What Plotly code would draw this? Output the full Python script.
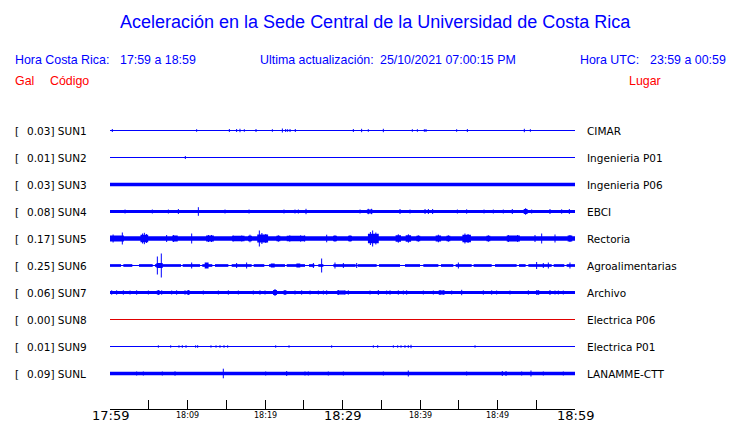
import plotly.graph_objects as go

# ---------------- data ----------------
STATIONS = ["SUN1", "SUN2", "SUN3", "SUN4", "SUN5", "SUN6", "SUN7", "SUN8", "SUN9", "SUNL"]
PLACES = ["CIMAR", "Ingenieria P01", "Ingenieria P06", "EBCI", "Rectoria",
          "Agroalimentarias", "Archivo", "Electrica P06", "Electrica P01", "LANAMME-CTT"]
PEAK_GAL = [0.03, 0.01, 0.03, 0.08, 0.17, 0.25, 0.06, 0.00, 0.01, 0.09]
# thickness of the background noise band (display px)
NOISE_BAND = [1, 1, 3.5, 3, 4.5, 2.7, 3, 1, 1, 3.3]
TRACE_COLORS = ["#0000ff"] * 7 + ["#e00000"] + ["#0000ff"] * 2

# spikes: (minutes after 17:59, half amplitude in display px)
SPIKES_SUN1 = [(0.30, 1.5), (11.18, 1.3), (15.40, 1.5), (16.34, 1.5), (16.77, 1.7), (17.33, 1.3),
               (18.84, 1.5), (20.95, 1.3), (22.24, 2.0), (22.67, 1.5), (22.92, 1.3), (23.23, 1.5),
               (23.91, 1.5), (31.40, 1.5), (32.47, 1.7), (33.33, 1.3), (35.27, 1.7), (39.01, 1.3),
               (39.66, 1.3), (40.56, 1.3), (40.77, 1.5), (44.73, 1.3), (46.11, 1.5), (53.46, 1.7),
               (54.24, 1.3)]
SPIKES_SUN2 = [(9.72, 1.5)]
SPIKES_SUN3 = []
SPIKES_SUN4 = [(1.94, 2.0), (5.46, 2.0), (7.53, 2.0), (8.82, 2.5), (11.40, 4.3), (14.84, 2.0),
               (17.94, 2.0), (22.45, 2.0), (23.87, 2.0), (24.30, 2.0), (25.29, 2.7), (32.26, 2.0),
               (33.33, 2.7), (33.76, 2.7), (37.42, 2.5), (38.71, 2.0), (40.65, 2.5), (41.08, 2.5),
               (41.63, 2.5), (44.82, 2.0), (46.02, 2.2), (48.26, 2.0), (49.46, 2.0), (50.75, 2.0),
               (51.91, 2.5), (53.63, 3.3), (54.41, 2.0), (56.77, 2.5), (58.28, 2.2), (59.27, 2.5)]
SPIKES_SUN5 = [(0.40, 4.0), (1.59, 6.0), (4.20, 5.0), (4.43, 5.7), (4.70, 4.5), (7.31, 3.5),
               (8.20, 3.5), (10.54, 5.0), (12.70, 3.5), (13.10, 3.5), (15.90, 3.0), (17.00, 3.0),
               (18.06, 3.8), (19.27, 8.0), (19.60, 5.5), (20.10, 4.5), (21.72, 3.2), (23.20, 3.2),
               (24.60, 3.2), (25.10, 3.0), (27.96, 3.8), (29.03, 3.2), (30.97, 3.2), (33.60, 6.5),
               (33.89, 8.0), (34.30, 6.0), (37.20, 4.2), (38.50, 4.2), (39.78, 3.2), (42.37, 3.8),
               (43.66, 3.2), (45.80, 5.0), (46.20, 4.5), (48.82, 3.2), (51.40, 3.5), (52.60, 3.5),
               (54.84, 3.5), (55.70, 5.0), (57.42, 4.0), (59.35, 3.5)]
SPIKES_SUN6 = [(6.11, 9.0), (6.62, 12.0), (10.54, 3.0), (16.34, 2.5), (17.63, 3.0), (26.24, 2.5),
               (27.31, 7.0), (29.03, 3.0), (30.11, 2.5), (31.83, 2.5), (44.95, 3.0), (55.05, 3.5),
               (55.91, 2.5), (56.56, 3.0), (59.35, 3.0)]
SPIKES_SUN7 = [(0.22, 2.2), (0.86, 2.2), (1.72, 2.2), (2.58, 2.0), (3.44, 2.2), (4.95, 2.0),
               (6.24, 2.5), (6.67, 2.2), (7.96, 2.0), (8.60, 2.2), (9.68, 2.2), (10.11, 2.5),
               (12.04, 2.0), (13.98, 2.0), (15.27, 2.2), (16.56, 2.0), (18.49, 2.0), (19.35, 2.2),
               (20.00, 2.0), (21.29, 3.5), (22.58, 2.5), (23.87, 2.0), (24.73, 2.2), (25.81, 2.0),
               (26.88, 2.0), (27.53, 2.0), (27.96, 2.2), (29.46, 2.5), (30.32, 2.2), (30.75, 2.2),
               (33.55, 2.0), (34.62, 2.5), (35.70, 2.0), (36.13, 2.2), (37.20, 2.2), (37.85, 2.0),
               (38.28, 2.2), (40.43, 2.0), (41.72, 2.0), (42.58, 2.5), (43.01, 2.2), (44.09, 2.0),
               (45.38, 2.7), (48.17, 2.2), (49.25, 2.2), (49.89, 2.0), (51.61, 2.0), (53.98, 2.2),
               (55.05, 2.2), (55.27, 2.2), (56.77, 2.5), (57.42, 2.0), (57.85, 2.0), (58.49, 2.0)]
SPIKES_SUN8 = []
SPIKES_SUN9 = [(6.24, 1.2), (7.83, 1.2), (8.90, 1.2), (9.33, 1.3), (9.81, 1.3), (11.05, 1.2),
               (11.31, 1.3), (13.03, 1.2), (13.68, 1.2), (14.19, 1.3), (14.71, 1.3), (15.18, 1.2),
               (21.38, 1.2), (23.10, 1.2), (28.60, 1.2), (33.98, 1.2), (34.54, 1.3), (36.56, 1.2),
               (37.12, 1.2), (37.55, 1.2), (38.06, 1.3), (38.49, 1.3), (38.84, 1.7), (47.10, 1.2)]
SPIKES_SUNL = [(3.44, 2.0), (4.30, 2.0), (6.75, 2.0), (8.39, 2.2), (14.62, 4.8), (20.09, 2.0),
               (22.80, 2.5), (25.16, 2.0), (25.59, 2.0), (28.17, 2.0), (30.11, 2.0), (35.27, 2.0),
               (38.49, 3.0), (46.02, 2.0), (50.62, 2.5), (51.10, 2.5), (53.12, 2.0), (54.32, 3.0),
               (55.91, 2.0), (58.49, 2.0)]

# bursts: (centre minute, half height px, duration minutes)
BURSTS_SUN4 = [(53.63, 2.4, 0.5), (33.5, 2.0, 0.7)]
BURSTS_SUN5 = [(0.9, 3.0, 1.8), (4.43, 3.8, 1.0), (8.39, 3.0, 0.7), (12.9, 3.0, 1.0),
               (16.56, 2.7, 1.6), (18.06, 2.8, 0.5), (19.7, 4.0, 1.4), (21.72, 2.7, 0.5),
               (24.0, 2.7, 2.4), (29.03, 2.7, 0.5), (30.97, 2.7, 0.5), (33.98, 4.8, 1.4),
               (37.2, 3.2, 0.7), (38.5, 3.2, 0.7), (39.78, 2.7, 0.5), (42.37, 2.9, 0.7),
               (43.66, 2.7, 0.5), (46.02, 3.8, 1.1), (48.82, 2.7, 0.5), (52.04, 2.9, 1.7),
               (59.35, 2.9, 0.6)]
BURSTS_SUN6 = [(6.4, 2.6, 0.8), (12.47, 3.0, 0.5), (24.3, 2.0, 0.5), (21.0, 2.0, 0.5)]
BURSTS_SUN7 = [(6.24, 2.0, 0.4), (10.11, 2.0, 0.4), (21.29, 2.4, 0.5), (22.58, 2.0, 0.4),
               (29.8, 2.0, 1.0), (42.8, 2.0, 0.8), (55.2, 2.0, 0.4)]
# quiet stretches where SUN6 shrinks to a thin line (start, end minutes)
QUIET_SUN6 = [(1.42, 1.72), (2.88, 3.74), (5.51, 5.81), (9.16, 9.38), (11.61, 11.91),
              (13.20, 13.55), (15.27, 15.70), (18.28, 18.54), (19.91, 20.52), (22.58, 22.80),
              (25.16, 25.68), (26.37, 26.88), (27.53, 28.82), (31.70, 31.96), (34.41, 34.71),
              (37.42, 38.06), (40.00, 40.43), (42.37, 42.71), (44.30, 44.60), (46.67, 46.92),
              (49.25, 49.68), (52.47, 52.77), (53.63, 53.98), (56.99, 57.25), (58.62, 58.92)]

SPIKES = {"SUN1": SPIKES_SUN1, "SUN2": SPIKES_SUN2, "SUN3": SPIKES_SUN3, "SUN4": SPIKES_SUN4,
          "SUN5": SPIKES_SUN5, "SUN6": SPIKES_SUN6, "SUN7": SPIKES_SUN7, "SUN8": SPIKES_SUN8,
          "SUN9": SPIKES_SUN9, "SUNL": SPIKES_SUNL}
BURSTS = {"SUN4": BURSTS_SUN4, "SUN5": BURSTS_SUN5, "SUN6": BURSTS_SUN6, "SUN7": BURSTS_SUN7}
QUIET = {"SUN6": QUIET_SUN6}

TICK_MIN = [0, 10, 20, 30, 40, 50, 60]
TICK_TEXT = ["17:59", "18:09", "18:19", "18:29", "18:39", "18:49", "18:59"]
MAJOR_TICKS = ["17:59", "18:29", "18:59"]
DURATION = 60

TITLE = "Aceleración en la Sede Central de la Universidad de Costa Rica"

# ---------------- layout geometry (page px of the 740x423 view) ----------------
OFF = 8                                # default body margin of the html page
W, H = 740 - OFF, 423 - OFF
PL, PR, PT, PB = 110, 575, 115, 409    # plot box in page px
ROW0, ROW_STEP = 15.5, 27              # first row centre (px below plot top), spacing

def px2x(px):
    return (px - PL) / (PR - PL)

def py2p(py):
    return (PB - py) / (PB - PT)

BLUE = "#0000ff"
RED = "#ff0000"
SANS = "Liberation Sans, Arial, sans-serif"
DEJ = "DejaVu Sans, sans-serif"

fig = go.Figure()

for i, st in enumerate(STATIONS):
    c = ROW0 + ROW_STEP * i
    col = TRACE_COLORS[i]
    if st in QUIET:
        fig.add_trace(go.Scatter(x=[0, DURATION], y=[c, c], mode="lines",
                                 line=dict(color=col, width=1), hoverinfo="skip"))
        xs, ys = [], []
        start = 0
        for g0, g1 in QUIET[st]:
            xs += [start, g0, None]
            ys += [c, c, None]
            start = g1
        xs += [start, DURATION]
        ys += [c, c]
        fig.add_trace(go.Scatter(x=xs, y=ys, mode="lines",
                                 line=dict(color=col, width=NOISE_BAND[i]), hoverinfo="skip"))
    else:
        fig.add_trace(go.Scatter(x=[0, DURATION], y=[c, c], mode="lines",
                                 line=dict(color=col, width=NOISE_BAND[i]), hoverinfo="skip"))
    if st in BURSTS:
        xs, ys = [], []
        for t, a, d in BURSTS[st]:
            h = d / 2
            x0, x1 = max(t - h, 0), min(t + h, DURATION)
            xs += [x0, x1, x1, x0, None]
            ys += [c - a, c - a, c + a, c + a, None]
        fig.add_trace(go.Scatter(x=xs, y=ys, mode="lines", fill="toself", fillcolor=col,
                                 line=dict(color=col, width=0), hoverinfo="skip"))
    if SPIKES[st]:
        xs, ys = [], []
        for t, a in SPIKES[st]:
            xs += [t, t, None]
            ys += [c - a, c + a, None]
        fig.add_trace(go.Scatter(x=xs, y=ys, mode="lines",
                                 line=dict(color=col, width=1), hoverinfo="skip"))

ann = []
def text(px, py, s, size, color, family, anchor="left"):
    ann.append(dict(x=px2x(px), y=py2p(py), xref="paper", yref="paper", text=s, showarrow=False,
                    xanchor=anchor, yanchor="middle", font=dict(size=size, color=color, family=family)))

text(375, 22, TITLE, 18, BLUE, SANS, "center")
text(13, 60, "Hora Costa Rica:", 12.4, BLUE, SANS)
text(118, 60, "17:59 a 18:59", 12.4, BLUE, SANS)
text(258, 60, "Ultima actualización:", 12.4, BLUE, SANS)
text(378, 60, "25/10/2021 07:00:15 PM", 12.4, BLUE, SANS)
text(578, 60, "Hora UTC:", 12.4, BLUE, SANS)
text(648, 60, "23:59 a 00:59", 12.4, BLUE, SANS)
text(13, 81, "Gal", 12.4, RED, SANS)
text(48, 81, "Código", 12.4, RED, SANS)
text(627, 81, "Lugar", 12.4, RED, SANS)

for i, st in enumerate(STATIONS):
    cy = PT + ROW0 + ROW_STEP * i
    text(13, cy, "[", 10.5, "black", DEJ)
    text(25, cy, f"{PEAK_GAL[i]:.2f}] {st}", 10.5, "black", DEJ)
    text(585, cy, PLACES[i], 10.5, "black", DEJ)

for t, lab in zip(TICK_MIN, TICK_TEXT):
    major = lab in MAJOR_TICKS
    ann.append(dict(x=t / DURATION, y=py2p(415 if major else 415.5), xref="paper", yref="paper",
                    text=lab, showarrow=False, xanchor="center", yanchor="middle", borderpad=0,
                    font=dict(size=13 if major else 8, color="black", family=DEJ)))

fig.update_layout(
    width=W, height=H,
    margin=dict(l=PL - OFF, r=W - (PR - OFF), t=PT - OFF, b=H - (PB - OFF), pad=0),
    paper_bgcolor="white", plot_bgcolor="white", showlegend=False,
    annotations=ann,
    xaxis=dict(range=[0, DURATION], showgrid=False, zeroline=False, showline=True,
               linecolor="black", linewidth=1, ticks="inside", ticklen=9, tickwidth=1,
               tickcolor="black", tickvals=list(range(0, DURATION + 1, 5)),
               showticklabels=False, fixedrange=True),
    yaxis=dict(range=[PB - PT, 0], showgrid=False, zeroline=False, showline=False,
               showticklabels=False, ticks="", fixedrange=True),
)

fig.write_html("out.html", config={"displayModeBar": False})
